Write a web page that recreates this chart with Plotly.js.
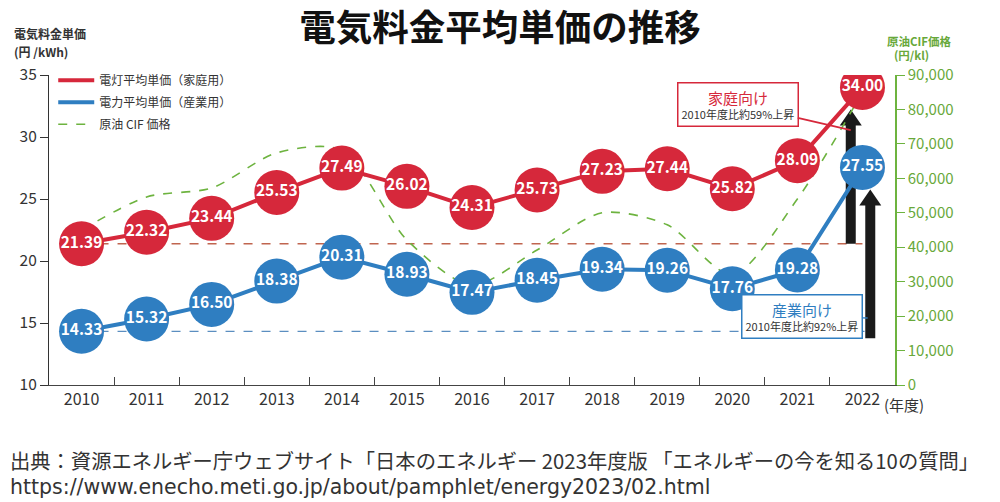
<!DOCTYPE html>
<html><head><meta charset="utf-8">
<script src="https://cdn.plot.ly/plotly-3.0.1.min.js"></script>
<style>html,body{margin:0;padding:0;background:#fff}#c{width:1000px;height:502px}</style>
</head><body><div id="c"></div>
<script>
const years = ['2010','2011','2012','2013','2014','2015','2016','2017','2018','2019','2020','2021','2022'];
const housePrice = [21.39,22.32,23.44,25.53,27.49,26.02,24.31,25.73,27.23,27.44,25.82,28.09,34.00];
const industryPrice = [14.33,15.32,16.50,18.38,20.31,18.93,17.47,18.45,19.34,19.26,17.76,19.28,27.55];
const crudeCIF = [45000,54600,57200,67400,68200,42100,29000,39200,50000,46500,32000,54000,85000];
const seriesNames = ['電灯平均単価（家庭用）','電力平均単価（産業用）','原油 CIF 価格'];
const leftTicks = [10,15,20,25,30,35];
const rightTicks = [0,10000,20000,30000,40000,50000,60000,70000,80000,90000];

const RED='#d6283b', BLUE='#2f7ec1', GREEN='#6db33f', GREENT='#68a83a';
const F='"Noto Sans CJK JP","Noto Sans",sans-serif';
const last = years.length-1;

const traces = [
 {x:years,y:crudeCIF,type:'scatter',mode:'lines',name:seriesNames[2],legendrank:3,legendgroup:'g3',yaxis:'y',
  line:{color:GREEN,width:1.6,dash:'dash',shape:'spline',smoothing:0.8},hoverinfo:'skip'},
 {x:years,y:housePrice,type:'scatter',mode:'lines',name:seriesNames[0],legendrank:1,legendgroup:'g1',yaxis:'y2',
  line:{color:RED,width:4}},
 {x:years,y:industryPrice,type:'scatter',mode:'lines',name:seriesNames[1],legendrank:2,legendgroup:'g2',yaxis:'y2',
  line:{color:BLUE,width:4}},
 {x:years,y:housePrice,type:'scatter',mode:'markers+text',showlegend:false,legendgroup:'g1',yaxis:'y2',
  text:housePrice.map(v=>v.toFixed(2)),textposition:'middle center',
  textfont:{family:F,size:15.5,color:'#fff',weight:'bold'},
  marker:{size:45,color:RED,line:{width:0}}},
 {x:years,y:industryPrice,type:'scatter',mode:'markers+text',showlegend:false,legendgroup:'g2',yaxis:'y2',
  text:industryPrice.map(v=>v.toFixed(2)),textposition:'middle center',
  textfont:{family:F,size:15.5,color:'#fff',weight:'bold'},
  marker:{size:45,color:BLUE,line:{width:0}}}
];

const pxPerUnit = 310/25;
const r = 22/pxPerUnit;
const headH = 16/pxPerUnit;

function arrow(xi, base, tip){
 return [
  {type:'line',xref:'x',yref:'y2',x0:xi,x1:xi,y0:base,y1:tip-headH+0.05,layer:'below',
   line:{color:'#1a1a1a',width:10}},
  {type:'path',xref:'x',yref:'y2',xsizemode:'pixel',ysizemode:'pixel',xanchor:xi,yanchor:tip,
   path:'M-11,-16L11,-16L0,0Z',fillcolor:'#1a1a1a',line:{width:0},layer:'below'}
 ];
}

const layout = {
 width:1000,height:502,
 margin:{l:49,r:105,t:75,b:117},
 paper_bgcolor:'#fff',plot_bgcolor:'#fff',
 font:{family:F,color:'#333'},
 title:{text:'<b>電気料金平均単価の推移</b>',x:0.5,xref:'container',y:1-28/502,yref:'container',yanchor:'middle',
  font:{family:F,size:36.5,color:'#111'}},
 showlegend:true,
 legend:{x:0.005,y:1.03,xanchor:'left',yanchor:'top',bgcolor:'rgba(0,0,0,0)',itemwidth:36,tracegroupgap:3,
  font:{family:F,size:12,color:'#333'},traceorder:'grouped'},
 xaxis:{type:'category',range:[-0.5,12.5],showline:true,linecolor:'#444',linewidth:1.2,
  ticks:'inside',tickson:'boundaries',ticklen:8,tickcolor:'#444',showgrid:false,zeroline:false,
  tickfont:{family:F,size:16,color:'#333'},tickvals:years,ticktext:years},
 yaxis:{range:[0,90000],side:'right',tickvals:rightTicks,tickformat:',',showgrid:false,zeroline:false,
  showline:true,linecolor:GREEN,linewidth:1.5,ticks:'outside',ticklen:8,tickcolor:GREEN,
  tickfont:{family:F,size:15,color:GREENT}},
 yaxis2:{range:[10,35],overlaying:'y',side:'left',tickvals:leftTicks,showgrid:false,zeroline:false,
  showline:true,linecolor:'#333',linewidth:1.2,ticks:'outside',ticklen:8,tickcolor:'#333',
  tickfont:{family:F,size:15.5,color:'#333'}},
 shapes:[
  {type:'line',xref:'x',yref:'y2',x0:0,x1:12.0,y0:housePrice[0],y1:housePrice[0],layer:'below',
   line:{color:'#c0654f',width:1.3,dash:'dash'}},
  {type:'line',xref:'x',yref:'y2',x0:0,x1:12.16,y0:industryPrice[0],y1:industryPrice[0],layer:'below',
   line:{color:'#5b8ec0',width:1.3,dash:'dash'}},
  ...arrow(11.82, housePrice[0], housePrice[last]-r),
  ...arrow(12.12, industryPrice[0]-0.55, industryPrice[last]-r)
 ],
 annotations:[
  {xref:'paper',yref:'paper',x:-0.0437,y:(385-34)/310,xanchor:'left',yanchor:'middle',showarrow:false,
   text:'<b>電気料金単価</b>',font:{family:F,size:12,color:'#333'}},
  {xref:'paper',yref:'paper',x:-0.0437,y:(385-52)/310,xanchor:'left',yanchor:'middle',showarrow:false,
   text:'<b>(円 /kWh)</b>',font:{family:F,size:12,color:'#333'}},
  {xref:'paper',yref:'paper',x:(919-49)/846,y:(385-41)/310,xanchor:'center',yanchor:'middle',showarrow:false,
   text:'<b>原油CIF価格</b>',font:{family:F,size:11.5,color:GREENT}},
  {xref:'paper',yref:'paper',x:(911-49)/846,y:(385-55)/310,xanchor:'center',yanchor:'middle',showarrow:false,
   text:'<b>(円/kl)</b>',font:{family:F,size:11.5,color:GREENT}},
  {xref:'paper',yref:'paper',x:(882-49)/846,y:(385-404)/310,xanchor:'left',yanchor:'middle',showarrow:false,
   text:'(年度)',font:{family:F,size:15,color:'#333'}},
  {xref:'x',yref:'y2',x:11.82,y:30.56,ax:10.08,ay:32.66,axref:'x',ayref:'y2',
   text:'<span style="color:'+RED+';font-size:15px">家庭向け</span><br><span style="font-size:11px;color:#333">2010年度比約59%上昇</span>',
   showarrow:true,arrowhead:0,arrowwidth:1.8,arrowcolor:RED,bgcolor:'#fff',bordercolor:RED,borderwidth:1.5,borderpad:3,
   font:{family:F,size:12}},
  {xref:'x',yref:'y2',x:12.08,y:15.4,ax:11.07,ay:15.56,axref:'x',ayref:'y2',
   text:'<span style="color:'+BLUE+';font-size:15px">産業向け</span><br><span style="font-size:11px;color:#333">2010年度比約92%上昇</span>',
   showarrow:true,arrowhead:0,arrowwidth:1.5,arrowcolor:BLUE,bgcolor:'#fff',bordercolor:BLUE,borderwidth:1.5,borderpad:3,
   font:{family:F,size:12}},
  {xref:'paper',yref:'paper',x:-0.0485,y:(385-460)/310,xanchor:'left',yanchor:'middle',showarrow:false,
   text:'出典：資源エネルギー庁ウェブサイト「日本のエネルギー 2023年度版 「エネルギーの今を知る10の質問」',
   font:{family:F,size:20.3,color:'#333'}},
  {xref:'paper',yref:'paper',x:-0.0485,y:(385-487)/310,xanchor:'left',yanchor:'middle',showarrow:false,
   text:'https://www.enecho.meti.go.jp/about/pamphlet/energy2023/02.html',
   font:{family:'"DejaVu Sans",sans-serif',size:20.5,color:'#333'}}
 ]
};
Plotly.newPlot('c',traces,layout,{displayModeBar:false,responsive:false});
</script></body></html>
